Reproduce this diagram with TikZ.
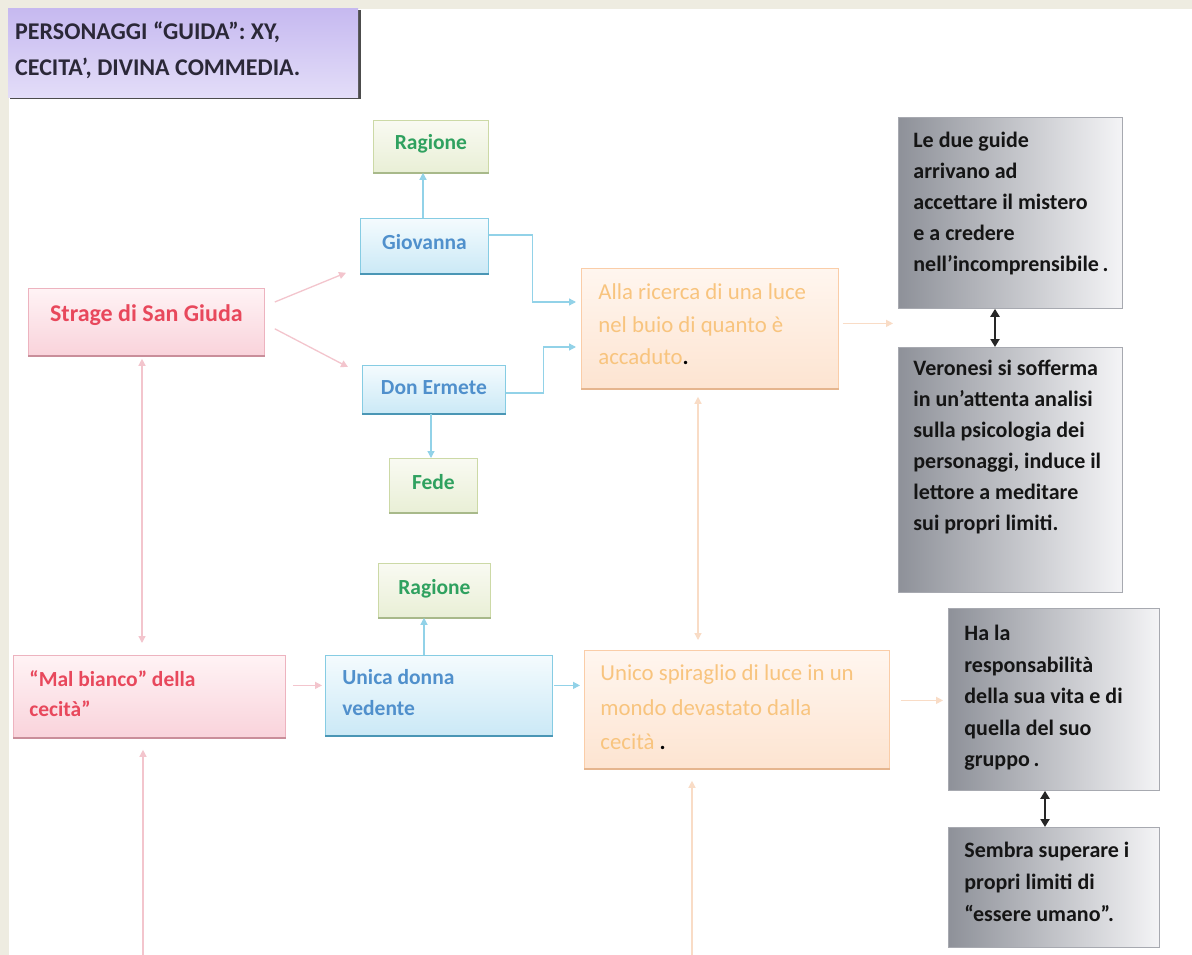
\documentclass[tikz,border=0pt]{standalone}
\usepackage{fontspec}
\setmainfont{Carlito}
\usetikzlibrary{calc,arrows.meta}
\definecolor{beige}{HTML}{EEECE1}
\definecolor{pinktop}{HTML}{FFF3F5}
\definecolor{pinkbot}{HTML}{F9D3DB}
\definecolor{pinkline}{HTML}{EDB3BF}
\definecolor{pinkshadow}{HTML}{C98E9A}
\definecolor{pinktext}{HTML}{E8485C}
\definecolor{bluetop}{HTML}{F4FBFE}
\definecolor{bluebot}{HTML}{CBE9F6}
\definecolor{blueline}{HTML}{86CCE3}
\definecolor{blueshadow}{HTML}{4A96B5}
\definecolor{bluetext}{HTML}{5090CC}
\definecolor{greentop}{HTML}{F9FAF2}
\definecolor{greenbot}{HTML}{E9EFD6}
\definecolor{greenline}{HTML}{CCD9A6}
\definecolor{greenshadow}{HTML}{A8B98A}
\definecolor{greentext}{HTML}{2FA15F}
\definecolor{peachtop}{HTML}{FFF6EF}
\definecolor{peachbot}{HTML}{FDE4D1}
\definecolor{peachline}{HTML}{FACDA8}
\definecolor{peachshadow}{HTML}{E5B58E}
\definecolor{peachtext}{HTML}{F8C47E}
\definecolor{greyleft}{HTML}{8E9199}
\definecolor{greyright}{HTML}{F4F4F6}
\definecolor{greyline}{HTML}{A7A9B0}
\definecolor{greytext}{HTML}{151515}
\definecolor{purptop}{HTML}{C6B9F0}
\definecolor{purpmid}{HTML}{A893E6}
\definecolor{purpbot}{HTML}{E3DDF8}
\definecolor{purptext}{HTML}{2B2838}
\definecolor{pinkarr}{HTML}{F3C5CD}
\definecolor{bluearr}{HTML}{92D2E8}
\definecolor{peacharr}{HTML}{F9DCC6}
% style, name, x, y, w, h, xpad, ypad, text
\newcommand\bx[9]{\node[#1, anchor=north west, inner sep=0pt, minimum width=#5pt, minimum height=#6pt] (#2) at (#3,#4) {\parbox[c][#6pt][t]{\dimexpr #5pt-#7pt*2\relax}{\raggedright\vspace*{#8pt}#9}};}
\newcommand\blackdot[1]{{\color{black}\bfseries #1}}
\tikzset{
  basebox/.style={draw, line width=0.8pt},
  pinkbox/.style={basebox, draw=pinkline, top color=pinktop, bottom color=pinkbot, text=pinktext, font=\bfseries\fontsize{21.5}{30}\selectfont},
  bluebox/.style={basebox, draw=blueline, top color=bluetop, bottom color=bluebot, text=bluetext, font=\bfseries\fontsize{21.5}{31}\selectfont},
  greenbox/.style={basebox, draw=greenline, top color=greentop, bottom color=greenbot, text=greentext, font=\bfseries\fontsize{21.5}{27}\selectfont},
  peachbox/.style={basebox, draw=peachline, top color=peachtop, bottom color=peachbot, text=peachtext, font=\fontsize{22.8}{32.5}\selectfont},
  greybox/.style={basebox, draw=greyline, left color=greyleft, right color=greyright, text=greytext, font=\bfseries\fontsize{22}{31}\selectfont},
  titlebox/.style={draw=none, top color=purptop, middle color=purpmid, bottom color=purpbot, text=purptext, font=\bfseries\fontsize{24}{36}\selectfont},
  tip/.style={-{Triangle[length=7pt,width=7pt]}},
  pinkarrow/.style={draw=pinkarr, line width=1.3pt, tip},
  pinkdouble/.style={draw=pinkarr, line width=1.3pt, {Triangle[length=7pt,width=7pt]}-{Triangle[length=7pt,width=7pt]}},
  bluearrow/.style={draw=bluearr, line width=1.3pt, tip},
  peacharrow/.style={draw=peacharr, line width=1.3pt, tip},
  peachdouble/.style={draw=peacharr, line width=1.3pt, {Triangle[length=7pt,width=7pt]}-{Triangle[length=7pt,width=7pt]}},
  blackdouble/.style={draw=black!85, line width=2pt, {Triangle[length=8pt,width=9pt]}-{Triangle[length=8pt,width=9pt]}},
}
\begin{document}
\begin{tikzpicture}[x=1pt,y=-1pt]
\useasboundingbox (0,0) rectangle (1192,955);
\fill[beige] (0,0) rectangle (1192,955);
\fill[white] (9,9) rectangle (1192,955);

% title
\draw[black!70, line width=3pt] (359,10) -- (359,98) -- (10,98);
\bx{titlebox}{title}{8}{8}{350}{89}{7}{14}{PERSONAGGI “GUIDA”: XY,\\CECITA’, DIVINA COMMEDIA.}

% upper group
\bx{greenbox}{ragione1}{373}{120}{115}{52}{4}{14}{\centering Ragione}
\bx{bluebox}{giovanna}{360}{218}{128}{55}{4}{16}{\centering Giovanna}
\bx{pinkbox, font=\bfseries\fontsize{24}{30}\selectfont}{strage}{28}{288}{236}{67}{4}{16}{\centering Strage di San Giuda}
\bx{peachbox}{alla}{581}{268}{257}{120}{17}{15.5}{Alla ricerca di una luce\\nel buio di quanto è\\accaduto\blackdot{.}}
\bx{bluebox}{donermete}{362}{365}{143}{48}{4}{15}{\centering Don Ermete}
\bx{greenbox}{fede}{389}{458}{88}{54}{4}{16}{\centering Fede}
\bx{greybox}{guide1}{898}{117}{224}{191}{15}{15}{Le due guide\\arrivano ad\\accettare il mistero\\e a credere\\nell’incomprensibile\,.}
\bx{greybox}{veronesi}{898}{347}{224}{245}{15}{13}{Veronesi si sofferma\\in un’attenta analisi\\sulla psicologia dei\\personaggi, induce il\\lettore a meditare\\sui propri limiti.}

% lower group
\bx{greenbox}{ragione2}{378}{563}{112}{54}{4}{16}{\centering Ragione}
\bx{pinkbox}{mal}{13}{655}{272}{82}{16}{15}{“Mal bianco” della\\cecità”}
\bx{bluebox}{unica}{325}{655}{227}{80}{17}{14}{Unica donna\\vedente}
\bx{peachbox, font=\fontsize{22.8}{34.5}\selectfont}{unico}{584}{650}{305}{118}{16}{14.5}{Unico spiraglio di luce in un\\mondo devastato dalla\\cecità \blackdot{.}}
\bx{greybox, font=\bfseries\fontsize{22}{31.5}\selectfont}{hala}{948}{608}{211}{182}{16}{17}{Ha la\\responsabilità\\della sua vita e di\\quella del suo\\gruppo\,.}
\bx{greybox, font=\bfseries\fontsize{22}{32}\selectfont}{sembra}{948}{827}{211}{120}{16}{15}{Sembra superare i\\propri limiti di\\“essere umano”.}

% bottom shadows
\foreach \n/\c in {strage/pinkshadow, mal/pinkshadow, giovanna/blueshadow, donermete/blueshadow, unica/blueshadow, ragione1/greenshadow, ragione2/greenshadow, fede/greenshadow, alla/peachshadow, unico/peachshadow}
  \draw[color=\c, line width=2.2pt] (\n.south west) -- (\n.south east);

% connectors upper
\draw[pinkarrow] ($(strage.north east)+(10,14)$) -- ($(giovanna.south west)+(-14,-1)$);
\draw[pinkarrow] ($(strage.south east)+(10,-27)$) -- ($(donermete.north west)+(-14,2)$);
\coordinate (g0) at ($(giovanna.north west)+(63,0)$);
\draw[bluearrow] (g0) -- (g0 |- ragione1.south);
\draw[bluearrow] ($(giovanna.north east)+(0,17)$) -- ++(44,0) |- ($(alla.north west)+(-5,34)$);
\draw[bluearrow] ($(donermete.north east)+(0,28)$) -- ++(38,0) |- ($(alla.north west)+(-5,79)$);
\coordinate (d0) at ($(donermete.south west)+(69,0)$);
\draw[bluearrow] (d0) -- (d0 |- fede.north);
\coordinate (a1) at ($(alla.east)+(4,-5)$);
\draw[peacharrow, shorten >=5pt] (a1) -- (a1 -| guide1.west);
\coordinate (k1) at ($(guide1.south west)+(97,0)$);
\draw[blackdouble] (k1) -- (k1 |- veronesi.north);

% connectors vertical
\coordinate (sm) at ($(strage.south west)+(114,0)$);
\draw[pinkdouble, shorten <=3pt, shorten >=12pt] (sm) -- (sm |- mal.north);
\coordinate (bm) at (143,955);
\draw[pinkarrow, shorten >=12pt] (bm) -- (bm |- mal.south);
\coordinate (au) at ($(alla.south west)+(117,0)$);
\draw[peachdouble, shorten <=8pt, shorten >=10pt] (au) -- (au |- unico.north);
\coordinate (bu) at (692,955);
\draw[peacharrow, shorten >=12pt] (bu) -- (bu |- unico.south);

% connectors lower
\coordinate (m1) at ($(mal.east)+(7,-11)$);
\draw[pinkarrow, shorten >=3pt] (m1) -- (m1 -| unica.west);
\coordinate (r0) at ($(unica.north west)+(99,0)$);
\draw[bluearrow] (r0) -- (r0 |- ragione2.south);
\coordinate (u1) at ($(unica.east)+(1,-10)$);
\draw[bluearrow, shorten >=4pt] (u1) -- (u1 -| unico.west);
\coordinate (u2) at ($(unico.east)+(11,-9)$);
\draw[peacharrow, shorten >=5pt] (u2) -- (u2 -| hala.west);
\coordinate (k2) at ($(hala.south west)+(97,0)$);
\draw[blackdouble] (k2) -- (k2 |- sembra.north);
\end{tikzpicture}
\end{document}
